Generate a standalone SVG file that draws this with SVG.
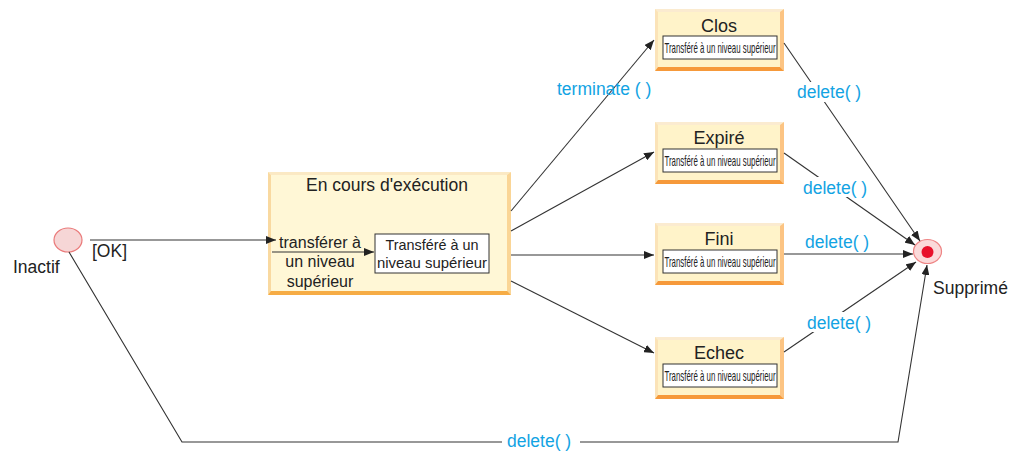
<svg xmlns="http://www.w3.org/2000/svg" width="1021" height="453" viewBox="0 0 1021 453">
<style>
text{font-family:"Liberation Sans",Arial,sans-serif;fill:#222}
.lbl{font-size:17.5px;fill:#12a3e3}
.title{font-size:18px;text-anchor:middle}
.sub{font-size:14.5px;text-anchor:middle}
.body{font-size:16px;text-anchor:middle}
.conn{fill:none;stroke:#333;stroke-width:1.1}
.inner{fill:#fff;stroke:#333;stroke-width:1}
.bg{fill:#fff}
</style>
<defs>
<marker id="arr" viewBox="0 0 10 8" refX="10" refY="4" markerWidth="10" markerHeight="8" markerUnits="userSpaceOnUse" orient="auto">
<path d="M0,0 L10,4 L0,8 z" fill="#222"/>
</marker>
<g id="sbox">
<rect x="0" y="0" width="129" height="62" fill="#fff3c9"/>
<polygon points="0,0 129,0 125,3 3,3" fill="#fbebd0"/>
<polygon points="0,0 3,3 3,58 0,62" fill="#fbe3b8"/>
<polygon points="129,0 129,62 125,58 125,3" fill="#fcc483"/>
<polygon points="0,62 129,62 125,58 3,58" fill="#f6993a"/>
</g>
</defs>

<g id="inactif">
<ellipse cx="68" cy="240" rx="14" ry="12" fill="#f6d6d6" stroke="#ea7a7a" stroke-width="1.2"/>
<text x="13" y="273" style="font-size:17.5px">Inactif</text>
</g>

<g id="supprime">
<ellipse cx="927.5" cy="251.5" rx="14" ry="12" fill="#fbdada" stroke="#ee8585" stroke-width="1.2"/>
<circle cx="927.5" cy="252" r="6" fill="#e8112b"/>
<text x="933" y="294" style="font-size:17.5px">Supprimé</text>
</g>

<g id="encours">
<rect x="268" y="172" width="243" height="123" fill="#fff7d6"/>
<polygon points="268,172 511,172 507,175 271,175" fill="#fbe9c4"/>
<polygon points="268,172 271,175 271,292 268,295" fill="#f9d9a0"/>
<polygon points="511,172 511,295 507,292 507,175" fill="#fad596"/>
<polygon points="268,295 511,295 507,291 271,291" fill="#f6ac45"/>
<text x="387" y="191" style="font-size:17.5px;text-anchor:middle">En cours d'exécution</text>
<text class="body" x="320" y="248">transférer à</text>
<text class="body" x="320" y="267">un niveau</text>
<text class="body" x="320" y="287">supérieur</text>
<rect class="inner" x="375" y="234" width="114" height="39"/>
<text x="432" y="250" style="font-size:15px;text-anchor:middle" textLength="93" lengthAdjust="spacingAndGlyphs">Transféré à un</text>
<text x="432" y="268" style="font-size:15px;text-anchor:middle" textLength="110" lengthAdjust="spacingAndGlyphs">niveau supérieur</text>
</g>

<g id="clos">
<use href="#sbox" x="655" y="9"/>
<text class="title" x="719" y="32">Clos</text>
<rect class="inner" x="663" y="36" width="114" height="23"/>
<text class="sub" x="720" y="53" textLength="111" lengthAdjust="spacingAndGlyphs">Transféré à un niveau supérieur</text>
</g>

<g id="expire">
<use href="#sbox" x="655" y="122"/>
<text class="title" x="719" y="144">Expiré</text>
<rect class="inner" x="663" y="149" width="114" height="23"/>
<text class="sub" x="720" y="166" textLength="111" lengthAdjust="spacingAndGlyphs">Transféré à un niveau supérieur</text>
</g>

<g id="fini">
<use href="#sbox" x="655" y="223"/>
<text class="title" x="719" y="245">Fini</text>
<rect class="inner" x="663" y="250" width="114" height="23"/>
<text class="sub" x="720" y="267" textLength="111" lengthAdjust="spacingAndGlyphs">Transféré à un niveau supérieur</text>
</g>

<g id="echec">
<use href="#sbox" x="655" y="337"/>
<text class="title" x="719" y="359">Echec</text>
<rect class="inner" x="663" y="364" width="114" height="23"/>
<text class="sub" x="720" y="381" textLength="111" lengthAdjust="spacingAndGlyphs">Transféré à un niveau supérieur</text>
</g>

<g id="connectors">
<line class="conn" x1="90" y1="240" x2="276" y2="240" marker-end="url(#arr)"/>
<line class="conn" x1="272" y1="252" x2="374" y2="252" marker-end="url(#arr)"/>
<line class="conn" x1="511" y1="211" x2="654" y2="40" marker-end="url(#arr)"/>
<line class="conn" x1="511" y1="231" x2="654" y2="152" marker-end="url(#arr)"/>
<line class="conn" x1="511" y1="255" x2="654" y2="255" marker-end="url(#arr)"/>
<line class="conn" x1="511" y1="281" x2="654" y2="353" marker-end="url(#arr)"/>
<line class="conn" x1="784" y1="43" x2="920" y2="241" marker-end="url(#arr)"/>
<line class="conn" x1="784" y1="153" x2="915" y2="245" marker-end="url(#arr)"/>
<line class="conn" x1="784" y1="254" x2="913" y2="254" marker-end="url(#arr)"/>
<line class="conn" x1="784" y1="352" x2="916" y2="262" marker-end="url(#arr)"/>
<polyline class="conn" points="69,252 182,442 898,442 927,265" marker-end="url(#arr)"/>
<text class="lbl" x="557" y="95">terminate ( )</text>
<rect class="bg" x="795" y="82" width="73" height="20"/>
<text class="lbl" x="797" y="98">delete( )</text>
<rect class="bg" x="801" y="177" width="71" height="20"/>
<text class="lbl" x="803" y="194">delete( )</text>
<rect class="bg" x="803" y="231" width="70" height="20"/>
<text class="lbl" x="805" y="248">delete( )</text>
<rect class="bg" x="805" y="312" width="72" height="20"/>
<text class="lbl" x="807" y="329">delete( )</text>
<rect class="bg" x="502" y="431" width="78" height="20"/>
<text class="lbl" x="507" y="447">delete( )</text>
<text x="92" y="257" style="font-size:17.5px">[OK]</text>
</g>
</svg>
